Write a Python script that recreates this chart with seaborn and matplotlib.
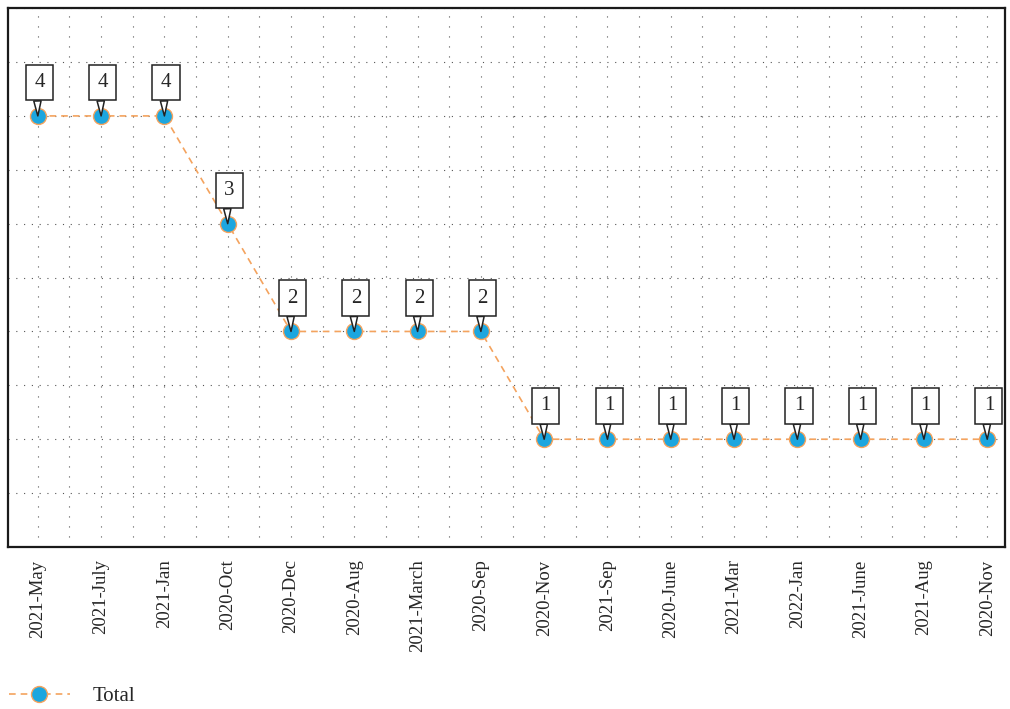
import numpy as np
import pandas as pd
import seaborn as sns
import matplotlib.pyplot as plt
from matplotlib.ticker import MultipleLocator

months = ["2021-May", "2021-July", "2021-Jan", "2020-Oct", "2020-Dec", "2020-Aug",
          "2021-March", "2020-Sep", "2020-Nov", "2021-Sep", "2020-June", "2021-Mar",
          "2022-Jan", "2021-June", "2021-Aug", "2020-Nov"]
totals = [4, 4, 4, 3, 2, 2, 2, 2, 1, 1, 1, 1, 1, 1, 1, 1]

df = pd.DataFrame({"pos": np.arange(len(months)), "Total": totals})

sns.set_style("white")
plt.rcParams["font.family"] = ["Liberation Serif", "DejaVu Serif"]

fig = plt.figure(figsize=(10.1, 7.09), dpi=100)
ax = fig.add_axes([0.008, 0.2285, 0.987, 0.760])

line_color = "#F4A35E"
dot_color = "#1CA6DF"

sns.lineplot(data=df, x="pos", y="Total", ax=ax, color=line_color, linestyle=(0, (4, 3)),
             linewidth=1.2, marker="o", markersize=11.5, markerfacecolor=dot_color,
             markeredgecolor=line_color, markeredgewidth=1.0, label="Total", legend=False)

for x, y in zip(df["pos"], df["Total"]):
    ax.annotate(str(y), xy=(x, y), xytext=(1.2, 24), textcoords="offset points",
                ha="center", va="center", fontsize=15,
                bbox=dict(boxstyle="square,pad=0.4", fc="white", ec="#222222", lw=1.1),
                arrowprops=dict(arrowstyle="wedge,tail_width=0.35,shrink_factor=0.5",
                                fc="white", ec="#222222", lw=1.1, shrinkA=0, shrinkB=0,
                                relpos=(0.28, 0.0)))

ax.set_xlim(-0.47, len(months) - 1 + 0.28)
ax.set_ylim(0, 5)
ax.xaxis.set_minor_locator(MultipleLocator(0.5))
ax.yaxis.set_major_locator(MultipleLocator(0.5))
ax.set_xticks(df["pos"])
ax.set_xticklabels(months, rotation=90, fontsize=13.5)
ax.set_yticklabels([])
ax.tick_params(axis="both", which="both", length=0)
ax.tick_params(axis="x", pad=9)
ax.grid(True, which="both", axis="x", color="#555555", linestyle=(0, (1, 8)), linewidth=0.8)
ax.grid(True, which="major", axis="y", color="#555555", linestyle=(0, (1, 6)), linewidth=0.8)
ax.set_xlabel("")
ax.set_ylabel("")
for s in ax.spines.values():
    s.set_visible(True)
    s.set_color("#1a1a1a")
    s.set_linewidth(1.6)

handles, labels = ax.get_legend_handles_labels()
fig.legend(handles, labels, loc="lower left", bbox_to_anchor=(0.006, 0.0), frameon=False,
           fontsize=15, handlelength=2.9, borderaxespad=0.0, borderpad=0.15, handletextpad=1.1)

fig.savefig("out.png", dpi=100)
